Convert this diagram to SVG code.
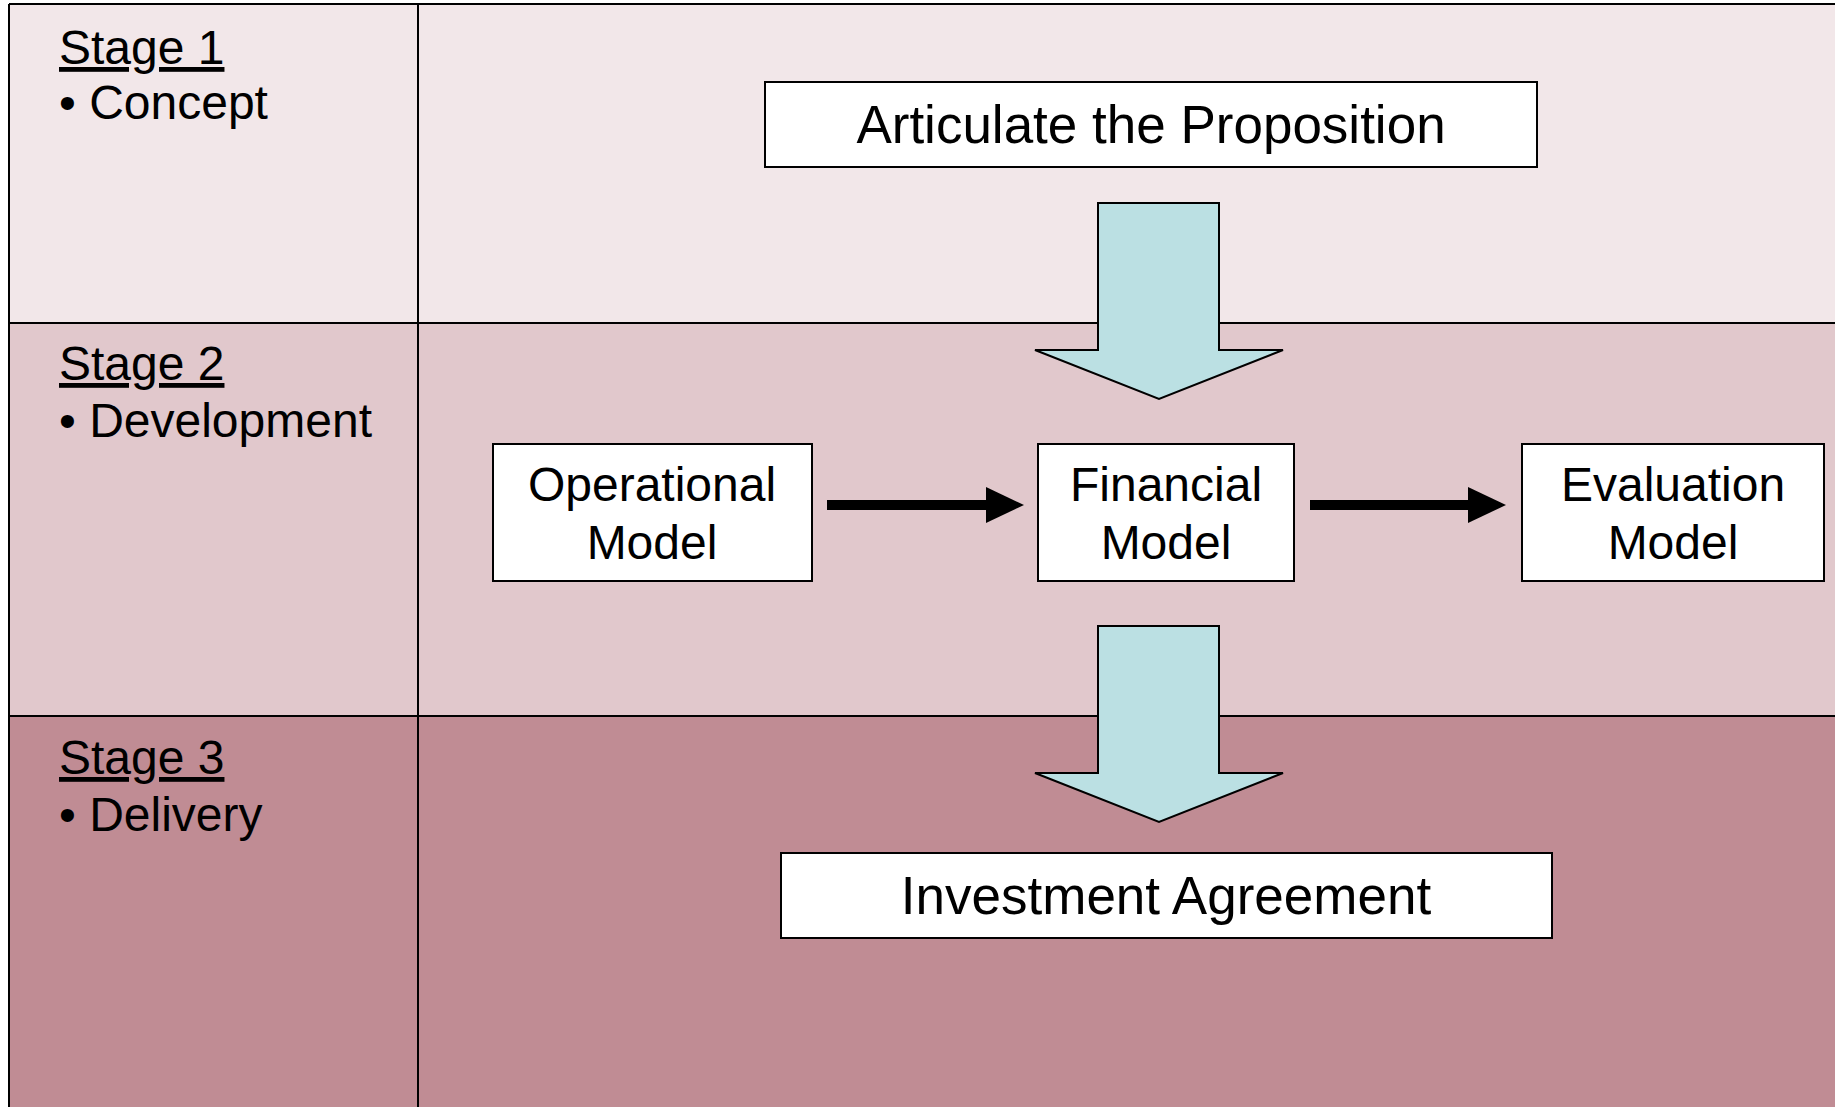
<svg xmlns="http://www.w3.org/2000/svg" width="1835" height="1107" viewBox="0 0 1835 1107">
<style>
.lbl{font-family:"Liberation Sans",Arial,sans-serif;font-size:48px;fill:#000}
.big{font-family:"Liberation Sans",Arial,sans-serif;font-size:53px;fill:#000}
.box{fill:#fff;stroke:#000;stroke-width:2}
.blk{fill:#BBE0E3;stroke:#000;stroke-width:2;stroke-linejoin:miter}
.grid{stroke:#000;stroke-width:2;fill:none}
.flow{stroke:#000;stroke-width:10}
</style>
<defs>
<marker id="ah" markerUnits="userSpaceOnUse" markerWidth="40" markerHeight="36" refX="1" refY="18" orient="auto" overflow="visible">
<path d="M0,0 L38,18 L0,36 Z" fill="#000"/>
</marker>
</defs>
<rect x="0" y="0" width="1835" height="1107" fill="#fff"/>
<g id="rows">
<rect x="9" y="4" width="1826" height="319" fill="#F2E7E9"/>
<rect x="9" y="323" width="1826" height="393" fill="#E1C8CC"/>
<rect x="9" y="716" width="1826" height="391" fill="#C08C94"/>
<path class="grid" d="M9,4 H1835 M9,4 V1107 M418,4 V1107 M9,323 H1835 M9,716 H1835"/>
</g>
<g id="stage1">
<text class="lbl" x="59" y="64" text-decoration="underline">Stage 1</text>
<text class="lbl" x="59" y="119">• Concept</text>
</g>
<g id="stage2">
<text class="lbl" x="59" y="380" text-decoration="underline">Stage 2</text>
<text class="lbl" x="59" y="437">• Development</text>
</g>
<g id="stage3">
<text class="lbl" x="59" y="774" text-decoration="underline">Stage 3</text>
<text class="lbl" x="59" y="831">• Delivery</text>
</g>
<g id="connectors">
<path class="blk" d="M1098,203 H1219 V350 H1283 L1159,399 L1035,350 H1098 Z"/>
<path class="blk" d="M1098,626 H1219 V773 H1283 L1159,822 L1035,773 H1098 Z"/>
<line class="flow" x1="827" y1="505" x2="987" y2="505" marker-end="url(#ah)"/>
<line class="flow" x1="1310" y1="505" x2="1469" y2="505" marker-end="url(#ah)"/>
</g>
<g id="articulate">
<rect class="box" x="765" y="82" width="772" height="85"/>
<text class="big" x="1151" y="143" text-anchor="middle">Articulate the Proposition</text>
</g>
<g id="operational">
<rect class="box" x="493" y="444" width="319" height="137"/>
<text class="lbl" x="652" y="501" text-anchor="middle">Operational</text>
<text class="lbl" x="652" y="559" text-anchor="middle">Model</text>
</g>
<g id="financial">
<rect class="box" x="1038" y="444" width="256" height="137"/>
<text class="lbl" x="1166" y="501" text-anchor="middle">Financial</text>
<text class="lbl" x="1166" y="559" text-anchor="middle">Model</text>
</g>
<g id="evaluation">
<rect class="box" x="1522" y="444" width="302" height="137"/>
<text class="lbl" x="1673" y="501" text-anchor="middle">Evaluation</text>
<text class="lbl" x="1673" y="559" text-anchor="middle">Model</text>
</g>
<g id="investment">
<rect class="box" x="781" y="853" width="771" height="85"/>
<text class="big" x="1166" y="914" text-anchor="middle">Investment Agreement</text>
</g>
</svg>
